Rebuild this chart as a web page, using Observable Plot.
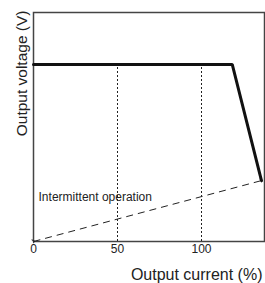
<!DOCTYPE html>
<html>
<head>
<meta charset="utf-8">
<script src="https://cdn.jsdelivr.net/npm/d3@7"></script>
<script src="https://cdn.jsdelivr.net/npm/@observablehq/plot@0.6"></script>
<style>
html, body { margin: 0; padding: 0; background: #fff; }
</style>
</head>
<body>
<div id="chart"></div>
<script>
// Output current (%) vs output voltage (relative units)
const characteristicX = [0, 118.3, 135.7];
const characteristicY = [77.3, 77.3, 26.6];
const intermittentX = [0, 135.7];
const intermittentY = [0, 26.6];
const guideX = [50, 100];
const guideTopY = 77.3;
const xTicks = [0, 50, 100];
const xLabel = "Output current (%)";
const yLabel = "Output voltage (V)";
const noteLabel = "Intermittent operation";
const noteX = 3;
const noteY = 19.5;

const mainLine = characteristicX.map((x, i) => ({x, y: characteristicY[i]}));
const guides = guideX.map(x => ({x, y1: 0, y2: guideTopY}));

const chart = Plot.plot({
  width: 265,
  height: 283,
  marginTop: 12,
  marginLeft: 33,
  marginRight: 1,
  marginBottom: 42,
  style: {fontFamily: "'Liberation Sans', Arial, Helvetica, sans-serif", color: "#222", background: "#fff"},
  x: {domain: [0, 137.5]},
  y: {domain: [0, 100], axis: null},
  marks: [
    Plot.frame({stroke: "#444", strokeWidth: 1.5}),
    Plot.ruleX(guides, {x: "x", y1: "y1", y2: "y2", stroke: "#222", strokeWidth: 1, strokeDasharray: "2,2"}),
    Plot.link([{x1: intermittentX[0], y1: intermittentY[0], x2: intermittentX[1], y2: intermittentY[1]}],
      {x1: "x1", y1: "y1", x2: "x2", y2: "y2", stroke: "#222", strokeWidth: 1, strokeDasharray: "7,5", markerStart: "arrow", markerEnd: "arrow"}),
    Plot.line(mainLine, {x: "x", y: "y", stroke: "#111", strokeWidth: 3, strokeLinejoin: "miter"}),
    Plot.text([noteLabel], {x: noteX, y: noteY, text: d => d, textAnchor: "start", fontSize: 12, fill: "#222"}),
    Plot.axisX({ticks: xTicks, tickSize: 0, tickPadding: 3, fontSize: 12, label: null, tickFormat: d => String(d)}),
    Plot.text([xLabel], {frameAnchor: "bottom-right", text: d => d, textAnchor: "end", dx: -2, dy: 38, fontSize: 16, fill: "#222"}),
    Plot.text([yLabel], {frameAnchor: "top-left", text: d => d, rotate: -90, textAnchor: "end", dx: -18, dy: -2, fontSize: 15.5, fill: "#222"})
  ]
});
document.getElementById("chart").appendChild(chart);
</script>
</body>
</html>
